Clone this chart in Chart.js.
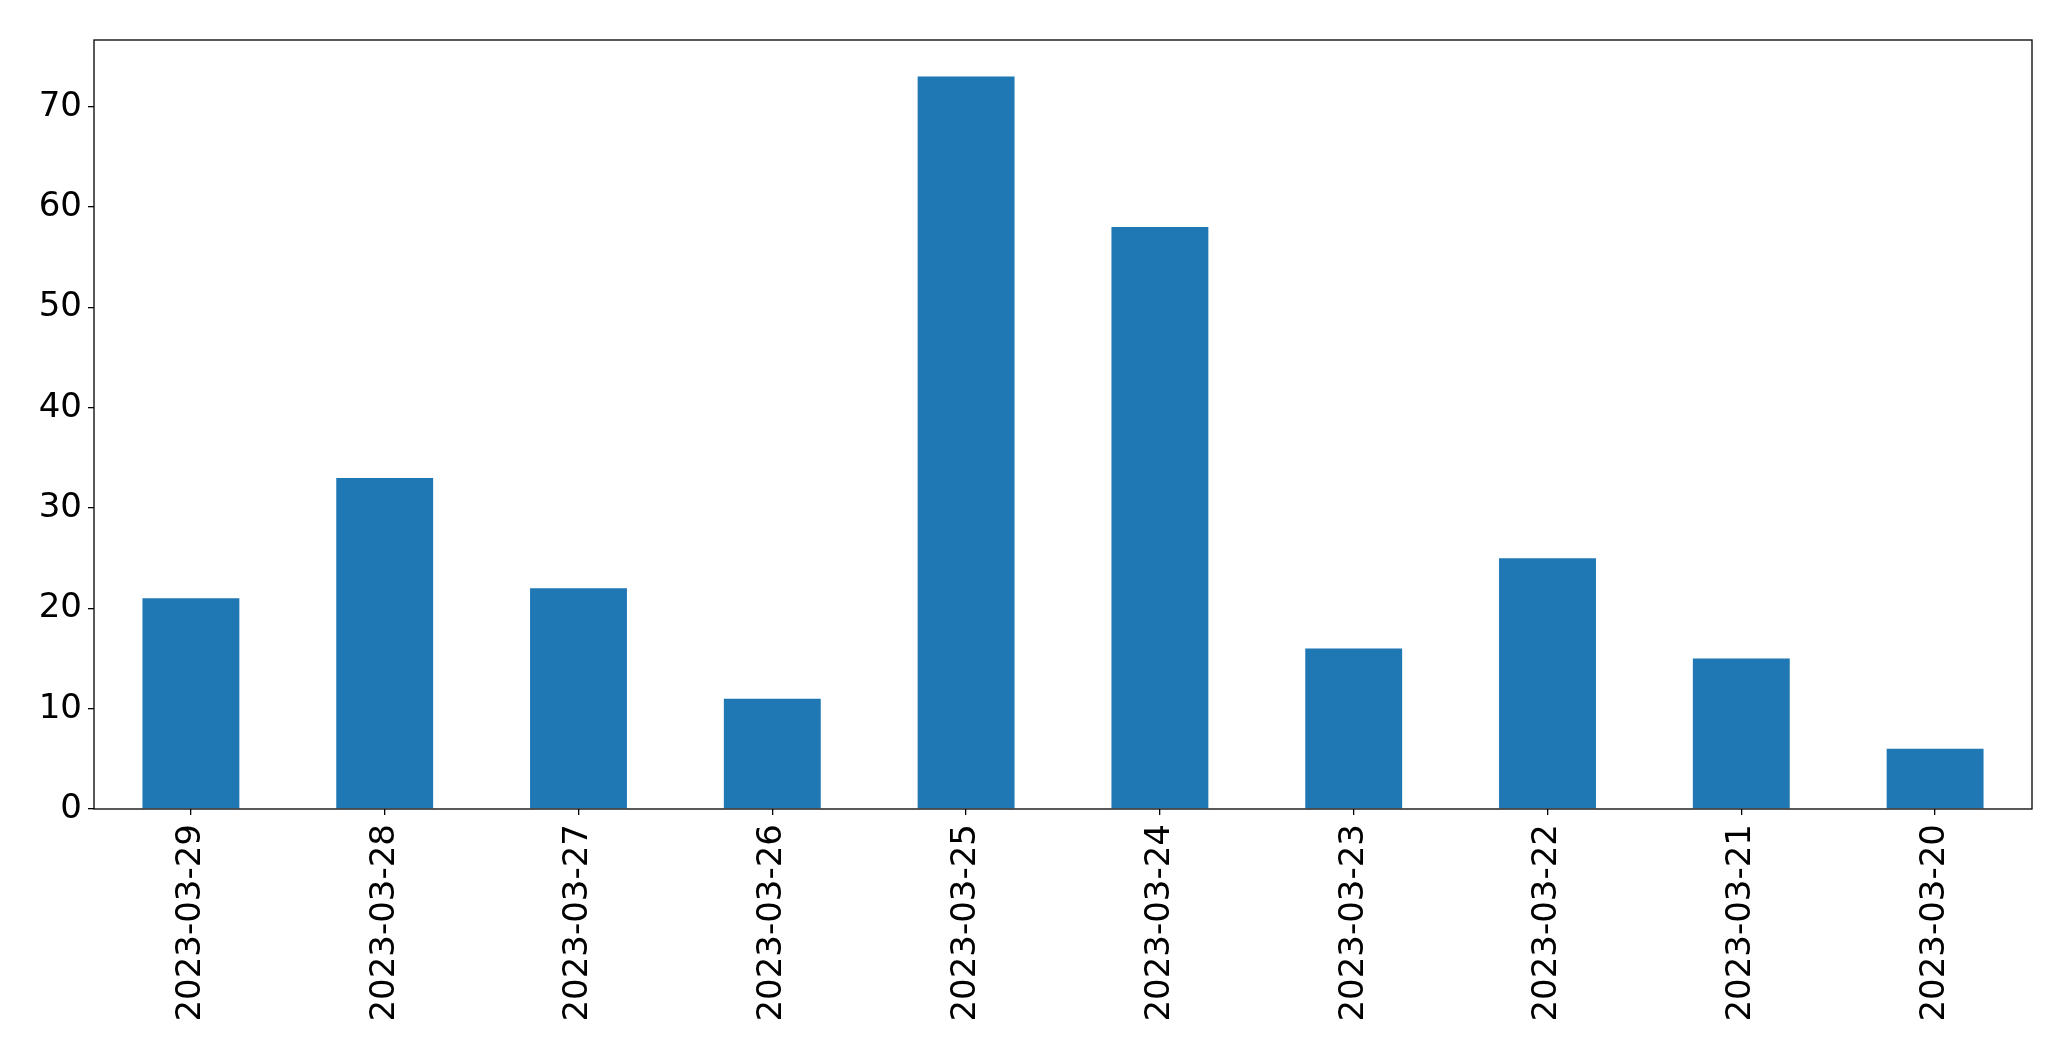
<!DOCTYPE html>
<html>
<head>
<meta charset="utf-8">
<script src="https://cdn.jsdelivr.net/npm/chart.js@4/dist/chart.umd.min.js"></script>
<style>
    html, body { margin: 0; padding: 0; background: #fff; }
    canvas { display: block; }
</style>
</head>
<body>
<canvas id="chart" width="2071" height="1061"></canvas>
<script>
// Data
const dates = [
    '2023-03-29', '2023-03-28', '2023-03-27', '2023-03-26', '2023-03-25',
    '2023-03-24', '2023-03-23', '2023-03-22', '2023-03-21', '2023-03-20'
];
const counts = [21, 33, 22, 11, 73, 58, 16, 25, 15, 6];
const yTicks = [0, 10, 20, 30, 40, 50, 60, 70];

// Frame around the plot area, like a matplotlib axes box
const frame = {
    id: 'frame',
    afterDatasetsDraw(chart) {
        const { ctx, chartArea: a } = chart;
        ctx.save();
        ctx.strokeStyle = '#000';
        ctx.lineWidth = 1.3;
        ctx.strokeRect(a.left, a.top, a.right - a.left, a.bottom - a.top);
        ctx.restore();
    }
};

const font = { family: 'DejaVu Sans', size: 34 };

new Chart(document.getElementById('chart').getContext('2d'), {
    type: 'bar',
    data: {
        labels: dates,
        datasets: [{
            data: counts,
            backgroundColor: '#1f77b4',
            borderWidth: 0,
            barPercentage: 0.5,
            categoryPercentage: 1
        }]
    },
    options: {
        responsive: false,
        devicePixelRatio: 1,
        animation: false,
        layout: {
            padding: { left: 0, top: 40, right: 39, bottom: 0 }
        },
        scales: {
            x: {
                offset: true,
                grid: {
                    offset: false,
                    drawOnChartArea: false,
                    drawTicks: true,
                    tickLength: 6,
                    color: '#000',
                    lineWidth: 1.3
                },
                border: { display: false },
                ticks: {
                    color: '#000',
                    font: font,
                    minRotation: 90,
                    maxRotation: 90,
                    autoSkip: false,
                    padding: 9
                },
                afterFit(scale) { scale.height = 252; }
            },
            y: {
                min: 0,
                max: 76.65,
                grid: {
                    drawOnChartArea: false,
                    drawTicks: true,
                    tickLength: 6,
                    color: '#000',
                    lineWidth: 1.3
                },
                border: { display: false },
                ticks: {
                    color: '#000',
                    font: font,
                    stepSize: 10,
                    includeBounds: false,
                    padding: 6
                },
                afterBuildTicks(scale) {
                    scale.ticks = yTicks.map(v => ({ value: v }));
                },
                afterFit(scale) { scale.width = 94; }
            }
        },
        plugins: {
            legend: { display: false },
            tooltip: { enabled: false }
        }
    },
    plugins: [frame]
});
</script>
</body>
</html>
